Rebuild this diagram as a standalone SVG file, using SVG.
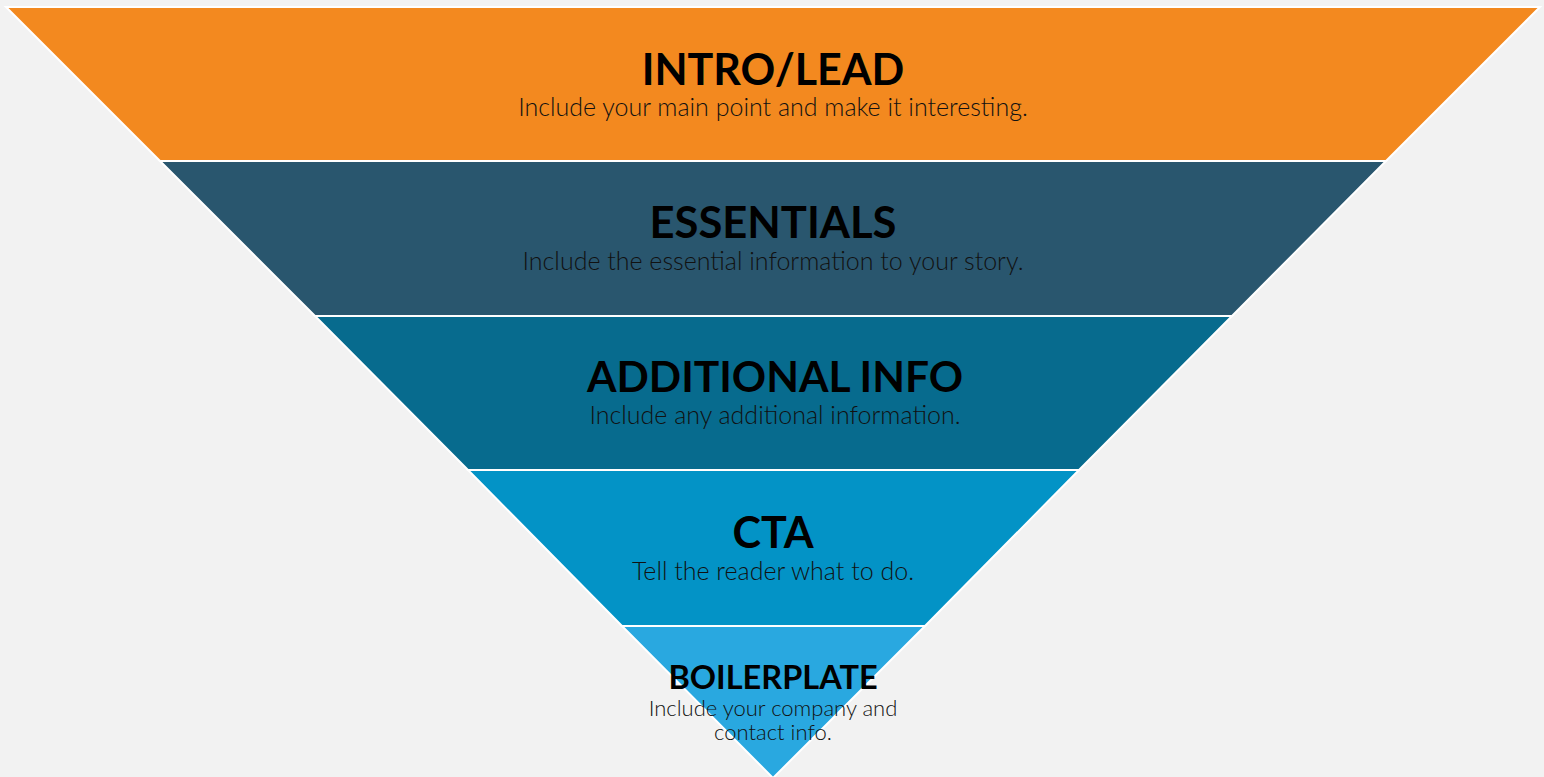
<svg xmlns="http://www.w3.org/2000/svg" width="1544" height="777" viewBox="0 0 1544 777">
<style>
.band{stroke:#ffffff;stroke-width:2;stroke-linejoin:miter}
.t{font-family:"Lato","Liberation Sans",Arial,sans-serif;font-weight:bold;fill:#000;text-anchor:middle}
.s{font-family:"Lato","Liberation Sans",Arial,sans-serif;font-weight:300;fill:#111111;text-anchor:middle}
</style>
<rect x="0" y="0" width="1544" height="777" fill="#f2f2f2"/>
<g id="intro">
<polygon class="band" points="6,7 1540,7 1386,161 160,161" fill="#f3891f"/>
<text class="t" x="773" y="85" font-size="43">INTRO/LEAD</text>
<text class="s" x="773" y="116" font-size="25">Include your main point and make it interesting.</text>
</g>
<g id="essentials">
<polygon class="band" points="160,161 1386,161 1232,316 315,316" fill="#29566e"/>
<text class="t" x="773" y="238" font-size="43.5">ESSENTIALS</text>
<text class="s" x="773" y="270" font-size="25">Include the essential information to your story.</text>
</g>
<g id="additional">
<polygon class="band" points="315,316 1232,316 1079,470 468,470" fill="#076b8e"/>
<text class="t" x="775" y="392" font-size="42.5">ADDITIONAL INFO</text>
<text class="s" x="775" y="424" font-size="25">Include any additional information.</text>
</g>
<g id="cta">
<polygon class="band" points="468,470 1079,470 925,626 622,626" fill="#0393c6"/>
<text class="t" x="773" y="548" font-size="43">CTA</text>
<text class="s" x="773" y="580" font-size="25">Tell the reader what to do.</text>
</g>
<g id="boilerplate">
<polygon class="band" points="622,626 925,626 773,778" fill="#29a8e0"/>
<text class="t" x="773" y="689" font-size="32.5">BOILERPLATE</text>
<text class="s" x="773" y="716" font-size="22">Include your company and</text>
<text class="s" x="773" y="740" font-size="22">contact info.</text>
</g>
</svg>
